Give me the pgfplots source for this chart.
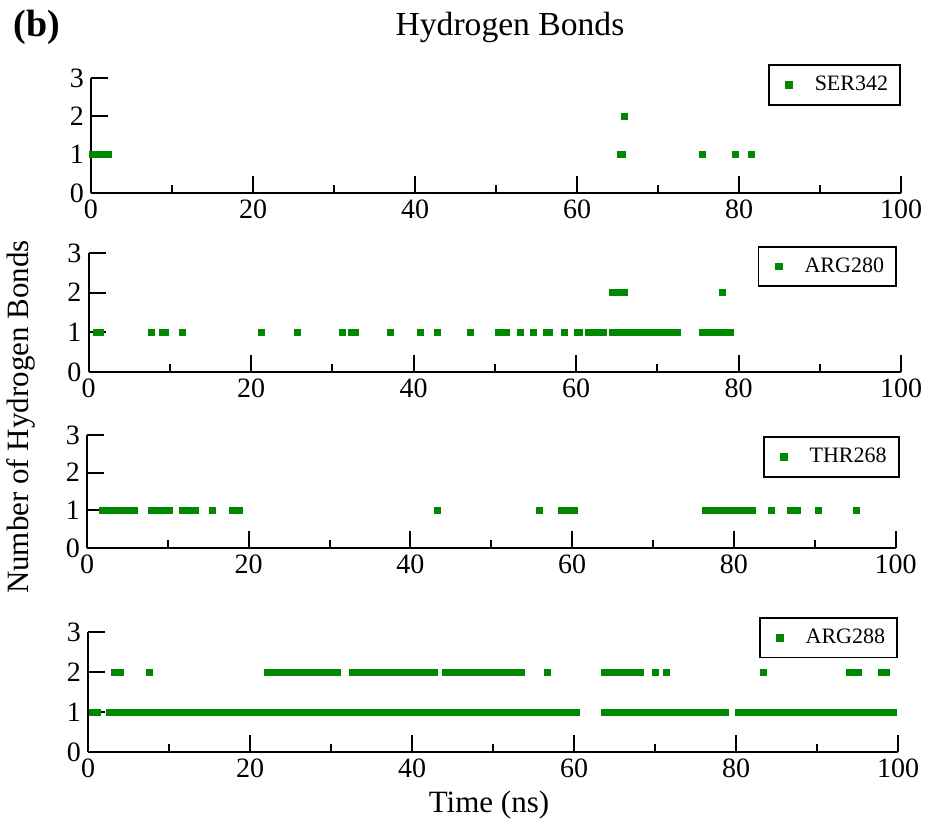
\documentclass[border=0pt]{standalone}
\usepackage{fontspec}
\setmainfont{Liberation Serif}
\usepackage{pgfplots}
\pgfplotsset{compat=1.18}
\definecolor{hbgreen}{RGB}{0,136,0}

\pgfplotsset{
  hbpanel/.style={
    scale only axis,
    anchor=south west,
    xmin=0, xmax=100, ymin=0, ymax=3,
    axis lines=left,
    axis line style={-, line width=1pt},
    axis on top,
    clip=false,
    xtick={0,20,...,100}, minor x tick num=1,
    xticklabels={0,20,40,60,80,100},
    ytick={0,1,2,3},
    yticklabels={0,1,2,3},
    major tick length=8.5pt, minor tick length=4pt,
    every tick/.style={black, line width=1pt},
    tick align=inside,
    tick label style={font=\fontsize{14}{16}\selectfont},
    legend style={draw=black, line width=0.9pt, anchor=north east,
      font=\fontsize{11}{13}\selectfont, inner xsep=4pt, inner ysep=3.5pt},
    legend image code/.code={\path[draw=none, fill=none] (0pt,-1pt) rectangle (17pt,1pt);
      \draw[#1] plot coordinates {(6.3pt,0pt)};},
  },
  hbmark/.style={only marks, mark=square*, mark size=1.5pt, color=hbgreen,
    mark options={draw=hbgreen, fill=hbgreen}},
}

\begin{document}
\begin{tikzpicture}
\path[use as bounding box] (0,0) rectangle (465.5pt,413.5pt);

\node[font=\bfseries\fontsize{19}{21}\selectfont] at (18.5pt,400pt) {(b)};
\node[font=\fontsize{16.8}{19}\selectfont] at (255pt,400pt) {Hydrogen Bonds};
\node[font=\fontsize{15.5}{18}\selectfont, rotate=90] at (10.5pt,205pt) {Number of Hydrogen Bonds};
\node[font=\fontsize{15.5}{18}\selectfont] at (244.5pt,11pt) {Time (ns)};

% SER342
\begin{axis}[hbpanel, at={(45.5pt,317pt)}, width=405pt, height=57.5pt,
  legend style={at={(1,1.12)}}]
\addplot[hbmark] coordinates {
 (0.2,1) (0.6,1) (1.0,1) (1.4,1) (1.8,1) (2.2,1)
 (65.4,1) (65.6,1) (75.5,1) (79.5,1) (81.5,1)
 (65.8,2)
}; \addlegendentry{SER342}
\end{axis}

% ARG280
\begin{axis}[hbpanel, at={(44.25pt,227.5pt)}, width=406.25pt, height=59.5pt,
  legend style={at={(0.995,1.06)}}]
\addplot[hbmark] coordinates {
 (1.0,1) (1.5,1) (7.7,1) (9.1,1) (9.5,1) (11.6,1) (21.3,1) (25.7,1)
 (31.2,1) (32.4,1) (32.8,1) (37.2,1) (40.8,1) (42.9,1) (47.0,1)
 (50.5,1) (51.0,1) (51.4,1) (53.2,1) (54.8,1) (56.4,1) (56.7,1) (58.6,1)
 (60.2,1) (60.4,1) (61.5,1) (62.0,1) (62.5,1) (63.0,1) (63.4,1)
 (64.5,1) (65.0,1) (65.5,1) (66.0,1) (66.5,1) (67.0,1) (67.5,1) (68.0,1)
 (68.5,1) (69.0,1) (69.5,1) (70.0,1) (70.5,1) (71.0,1) (71.5,1) (72.0,1) (72.5,1)
 (75.6,1) (76.1,1) (76.6,1) (77.1,1) (77.6,1) (78.1,1) (78.6,1) (79.0,1)
 (64.5,2) (65.0,2) (65.5,2) (65.9,2) (78.0,2)
}; \addlegendentry{ARG280}
\end{axis}

% THR268
\begin{axis}[hbpanel, at={(43.5pt,139.5pt)}, width=404.25pt, height=56.5pt,
  legend style={at={(1.005,0.99)}}]
\addplot[hbmark] coordinates {
 (1.9,1) (2.4,1) (2.9,1) (3.4,1) (3.9,1) (4.4,1) (5.0,1) (5.9,1)
 (8.0,1) (8.5,1) (9.0,1) (9.5,1) (10.0,1) (10.2,1)
 (11.8,1) (12.3,1) (12.8,1) (13.4,1) (15.5,1) (18.0,1) (18.5,1) (18.9,1)
 (43.3,1) (56.0,1) (58.7,1) (59.2,1) (59.7,1) (60.3,1)
 (76.5,1) (77.0,1) (77.5,1) (78.0,1) (78.5,1) (79.0,1) (79.5,1) (80.0,1)
 (80.5,1) (81.0,1) (81.5,1) (82.0,1) (82.3,1)
 (84.7,1) (87.0,1) (87.5,1) (87.9,1) (90.5,1) (95.2,1)
}; \addlegendentry{THR268}
\end{axis}

% ARG288
\begin{axis}[hbpanel, at={(44pt,37.5pt)}, width=405pt, height=60pt,
  legend style={at={(1,1.125)}}]
\addplot[hbmark] coordinates {
 (0.5,1) (1.1,1)
 (2.7,1) (3.2,1) (3.7,1) (4.2,1) (4.7,1) (5.2,1) (5.7,1) (6.2,1) (6.7,1) (7.2,1)
 (7.7,1) (8.2,1) (8.7,1) (9.2,1) (9.7,1) (10.2,1) (10.7,1) (11.2,1) (11.7,1) (12.2,1)
 (12.7,1) (13.2,1) (13.7,1) (14.2,1) (14.7,1) (15.2,1) (15.7,1) (16.2,1) (16.7,1) (17.2,1)
 (17.7,1) (18.2,1) (18.7,1) (19.2,1) (19.7,1) (20.2,1) (20.7,1) (21.2,1) (21.7,1) (22.2,1)
 (22.7,1) (23.2,1) (23.7,1) (24.2,1) (24.7,1) (25.2,1) (25.7,1) (26.2,1) (26.7,1) (27.2,1)
 (27.7,1) (28.2,1) (28.7,1) (29.2,1) (29.7,1) (30.2,1) (30.7,1) (31.2,1) (31.7,1) (32.2,1)
 (32.7,1) (33.2,1) (33.7,1) (34.2,1) (34.7,1) (35.2,1) (35.7,1) (36.2,1) (36.7,1) (37.2,1)
 (37.7,1) (38.2,1) (38.7,1) (39.2,1) (39.7,1) (40.2,1) (40.7,1) (41.2,1) (41.7,1) (42.2,1)
 (42.7,1) (43.2,1) (43.7,1) (44.2,1) (44.7,1) (45.2,1) (45.7,1) (46.2,1) (46.7,1) (47.2,1)
 (47.7,1) (48.2,1) (48.7,1) (49.2,1) (49.7,1) (50.2,1) (50.7,1) (51.2,1) (51.7,1) (52.2,1)
 (52.7,1) (53.2,1) (53.7,1) (54.2,1) (54.7,1) (55.2,1) (55.7,1) (56.2,1) (56.7,1) (57.2,1)
 (57.7,1) (58.2,1) (58.7,1) (59.2,1) (59.5,1) (60.3,1)
 (63.7,1) (64.2,1) (64.7,1) (65.2,1) (65.7,1) (66.2,1) (66.7,1) (67.2,1) (67.7,1) (68.2,1)
 (68.7,1) (69.2,1) (69.7,1) (70.2,1) (70.7,1) (71.2,1) (71.7,1) (72.2,1) (72.7,1) (73.2,1)
 (73.7,1) (74.2,1) (74.7,1) (75.2,1) (75.7,1) (76.2,1) (76.7,1) (77.2,1) (77.7,1) (78.2,1) (78.7,1)
 (80.3,1) (80.8,1) (81.3,1) (81.8,1) (82.3,1) (82.8,1) (83.3,1) (83.8,1) (84.3,1) (84.8,1)
 (85.3,1) (85.8,1) (86.3,1) (86.8,1) (87.3,1) (87.8,1) (88.3,1) (88.8,1) (89.3,1) (89.8,1)
 (90.3,1) (90.8,1) (91.3,1) (91.8,1) (92.3,1) (92.8,1) (93.3,1) (93.8,1) (94.3,1) (94.8,1)
 (95.3,1) (95.8,1) (96.3,1) (96.8,1) (97.3,1) (97.8,1) (98.3,1) (98.8,1) (99.3,1) (99.4,1)
 (3.3,2) (3.8,2) (4.0,2) (7.6,2)
 (22.1,2) (22.6,2) (23.1,2) (23.6,2) (24.1,2) (24.6,2) (25.1,2) (25.6,2) (26.1,2) (26.6,2)
 (27.1,2) (27.6,2) (28.1,2) (28.6,2) (29.1,2) (29.6,2) (30.1,2) (30.6,2) (30.8,2)
 (32.6,2) (33.1,2) (33.6,2) (34.1,2) (34.6,2) (35.1,2) (35.6,2) (36.1,2) (36.6,2) (37.1,2)
 (37.6,2) (38.1,2) (38.6,2) (39.1,2) (39.6,2) (40.1,2) (40.6,2) (41.1,2) (41.6,2) (42.1,2)
 (42.6,2) (42.8,2)
 (44.1,2) (44.6,2) (45.1,2) (45.6,2) (46.1,2) (46.6,2) (47.1,2) (47.6,2) (48.1,2) (48.6,2)
 (49.1,2) (49.6,2) (50.1,2) (50.6,2) (51.1,2) (51.6,2) (52.1,2) (52.6,2) (53.1,2) (53.5,2)
 (56.7,2)
 (63.7,2) (64.2,2) (64.7,2) (65.2,2) (65.7,2) (66.2,2) (66.7,2) (67.2,2) (67.7,2) (68.2,2)
 (70.1,2) (71.4,2) (83.4,2) (94.0,2) (94.5,2) (95.1,2) (98.0,2) (98.6,2)
}; \addlegendentry{ARG288}
\end{axis}
\end{tikzpicture}
\end{document}
